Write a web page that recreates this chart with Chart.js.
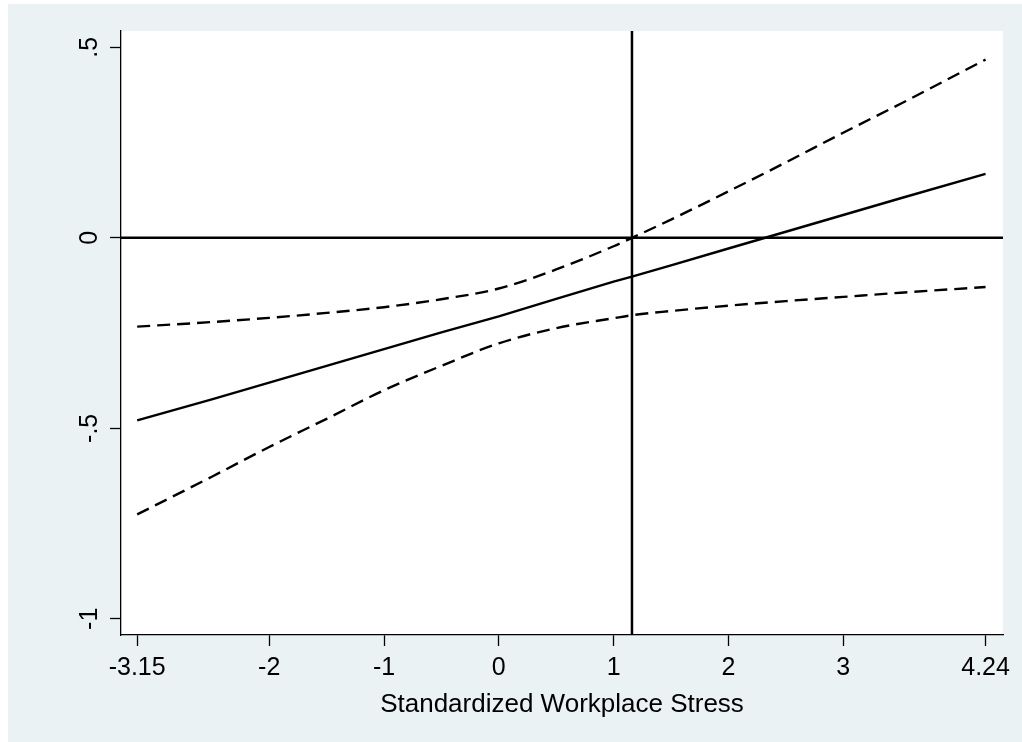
<!DOCTYPE html>
<html>
<head>
<meta charset="utf-8">
<script src="https://cdn.jsdelivr.net/npm/chart.js@4.4.1/dist/chart.umd.min.js"></script>
<style>
  html, body { margin: 0; padding: 0; background: #ffffff; overflow: hidden; }
  #wrap { position: absolute; left: 8px; top: 4px; width: 1014px; height: 738px; background: #eaf2f3; }
</style>
</head>
<body>
<div id="wrap"><canvas id="stressChart" width="1014" height="738"></canvas></div>
<script>
// values
const xValues = [-3.15, -2.5, -2, -1.5, -1, -0.5, 0, 0.5, 1, 1.16, 1.5, 2, 2.5, 3, 3.5, 4.24];
const estimate = [-0.479, -0.424, -0.380, -0.336, -0.292, -0.248, -0.206, -0.160, -0.115, -0.102, -0.072, -0.028, 0.016, 0.060, 0.104, 0.168];
const upperCI = [-0.233, -0.221, -0.210, -0.197, -0.182, -0.161, -0.133, -0.083, -0.022, 0.000, 0.048, 0.122, 0.198, 0.276, 0.352, 0.468];
const lowerCI = [-0.726, -0.627, -0.549, -0.475, -0.400, -0.336, -0.277, -0.237, -0.211, -0.203, -0.192, -0.178, -0.166, -0.155, -0.144, -0.129];

const xTicks = [-3.15, -2, -1, 0, 1, 2, 3, 4.24];
const yTicks = [-1, -0.5, 0, 0.5];
const yTickLabels = ["-1", "-.5", "0", ".5"];
const refX = 1.16;
const refY = 0;

const FONT = "'Liberation Sans', Arial, sans-serif";

const toPoints = ys => xValues.map((x, i) => ({ x: x, y: ys[i] }));

const backgroundPlugin = {
  id: "plotBg",
  beforeDraw(chart) {
    const { ctx, chartArea } = chart;
    ctx.save();
    ctx.fillStyle = "#ffffff";
    ctx.fillRect(chartArea.left, chartArea.top,
      chartArea.right - chartArea.left, chartArea.bottom - chartArea.top);
    ctx.restore();
  }
};

const refLinesPlugin = {
  id: "refLines",
  beforeDatasetsDraw(chart) {
    const { ctx, chartArea, scales } = chart;
    const px = scales.x.getPixelForValue(refX);
    const py = scales.y.getPixelForValue(refY);
    ctx.save();
    ctx.strokeStyle = "#000000";
    ctx.lineWidth = 2.5;
    ctx.beginPath();
    ctx.moveTo(px, chartArea.top);
    ctx.lineTo(px, chartArea.bottom);
    ctx.moveTo(chartArea.left, py);
    ctx.lineTo(chartArea.right, py);
    ctx.stroke();
    ctx.restore();
  }
};

const yLabelPlugin = {
  id: "yLabels",
  afterDraw(chart) {
    const { ctx, scales } = chart;
    ctx.save();
    ctx.fillStyle = "#000000";
    ctx.font = "25px " + FONT;
    ctx.textAlign = "center";
    ctx.textBaseline = "middle";
    yTicks.forEach((v, i) => {
      const py = scales.y.getPixelForValue(v);
      ctx.save();
      ctx.translate(82, py);
      ctx.rotate(-Math.PI / 2);
      ctx.fillText(yTickLabels[i], 0, 0);
      ctx.restore();
    });
    ctx.restore();
  }
};

new Chart(
  document.getElementById("stressChart"),
  {
    type: "scatter",
    data: {
      datasets: [
        {
          label: "estimate",
          data: toPoints(estimate),
          showLine: true,
          borderColor: "#000000",
          borderWidth: 2.4,
          pointRadius: 0
        },
        {
          label: "upper",
          data: toPoints(upperCI),
          showLine: true,
          borderColor: "#000000",
          borderWidth: 2.4,
          borderDash: [13, 7],
          cubicInterpolationMode: "monotone",
          pointRadius: 0
        },
        {
          label: "lower",
          data: toPoints(lowerCI),
          showLine: true,
          borderColor: "#000000",
          borderWidth: 2.4,
          borderDash: [13, 7],
          cubicInterpolationMode: "monotone",
          pointRadius: 0
        }
      ]
    },
    options: {
      responsive: false,
      animation: false,
      devicePixelRatio: 1,
      layout: { padding: { left: 0, right: 19, top: 27, bottom: 0 } },
      plugins: {
        legend: { display: false },
        tooltip: { enabled: false }
      },
      scales: {
        x: {
          type: "linear",
          min: -3.291,
          max: 4.392,
          afterBuildTicks: scale => {
            scale.ticks = xTicks.map(v => ({ value: v }));
          },
          afterFit: scale => { scale.height = 107; },
          ticks: {
            color: "#000000",
            font: { family: FONT, size: 25 },
            padding: 7,
            maxRotation: 0,
            callback: v => String(v)
          },
          grid: {
            drawOnChartArea: false,
            drawTicks: true,
            tickLength: 11,
            tickWidth: 1.3,
            tickColor: "#000000"
          },
          border: { display: true, color: "#000000", width: 1.3 },
          title: {
            display: true,
            text: "Standardized Workplace Stress",
            color: "#000000",
            font: { family: FONT, size: 26 },
            padding: { top: 4, bottom: 22 }
          }
        },
        y: {
          type: "linear",
          min: -1.0425,
          max: 0.543,
          afterBuildTicks: scale => {
            scale.ticks = yTicks.map(v => ({ value: v }));
          },
          afterFit: scale => { scale.width = 113; },
          ticks: { display: false },
          grid: {
            drawOnChartArea: false,
            drawTicks: true,
            tickLength: 11,
            tickWidth: 1.3,
            tickColor: "#000000"
          },
          border: { display: true, color: "#000000", width: 1.3 }
        }
      }
    },
    plugins: [backgroundPlugin, refLinesPlugin, yLabelPlugin]
  }
);
</script>
</body>
</html>
